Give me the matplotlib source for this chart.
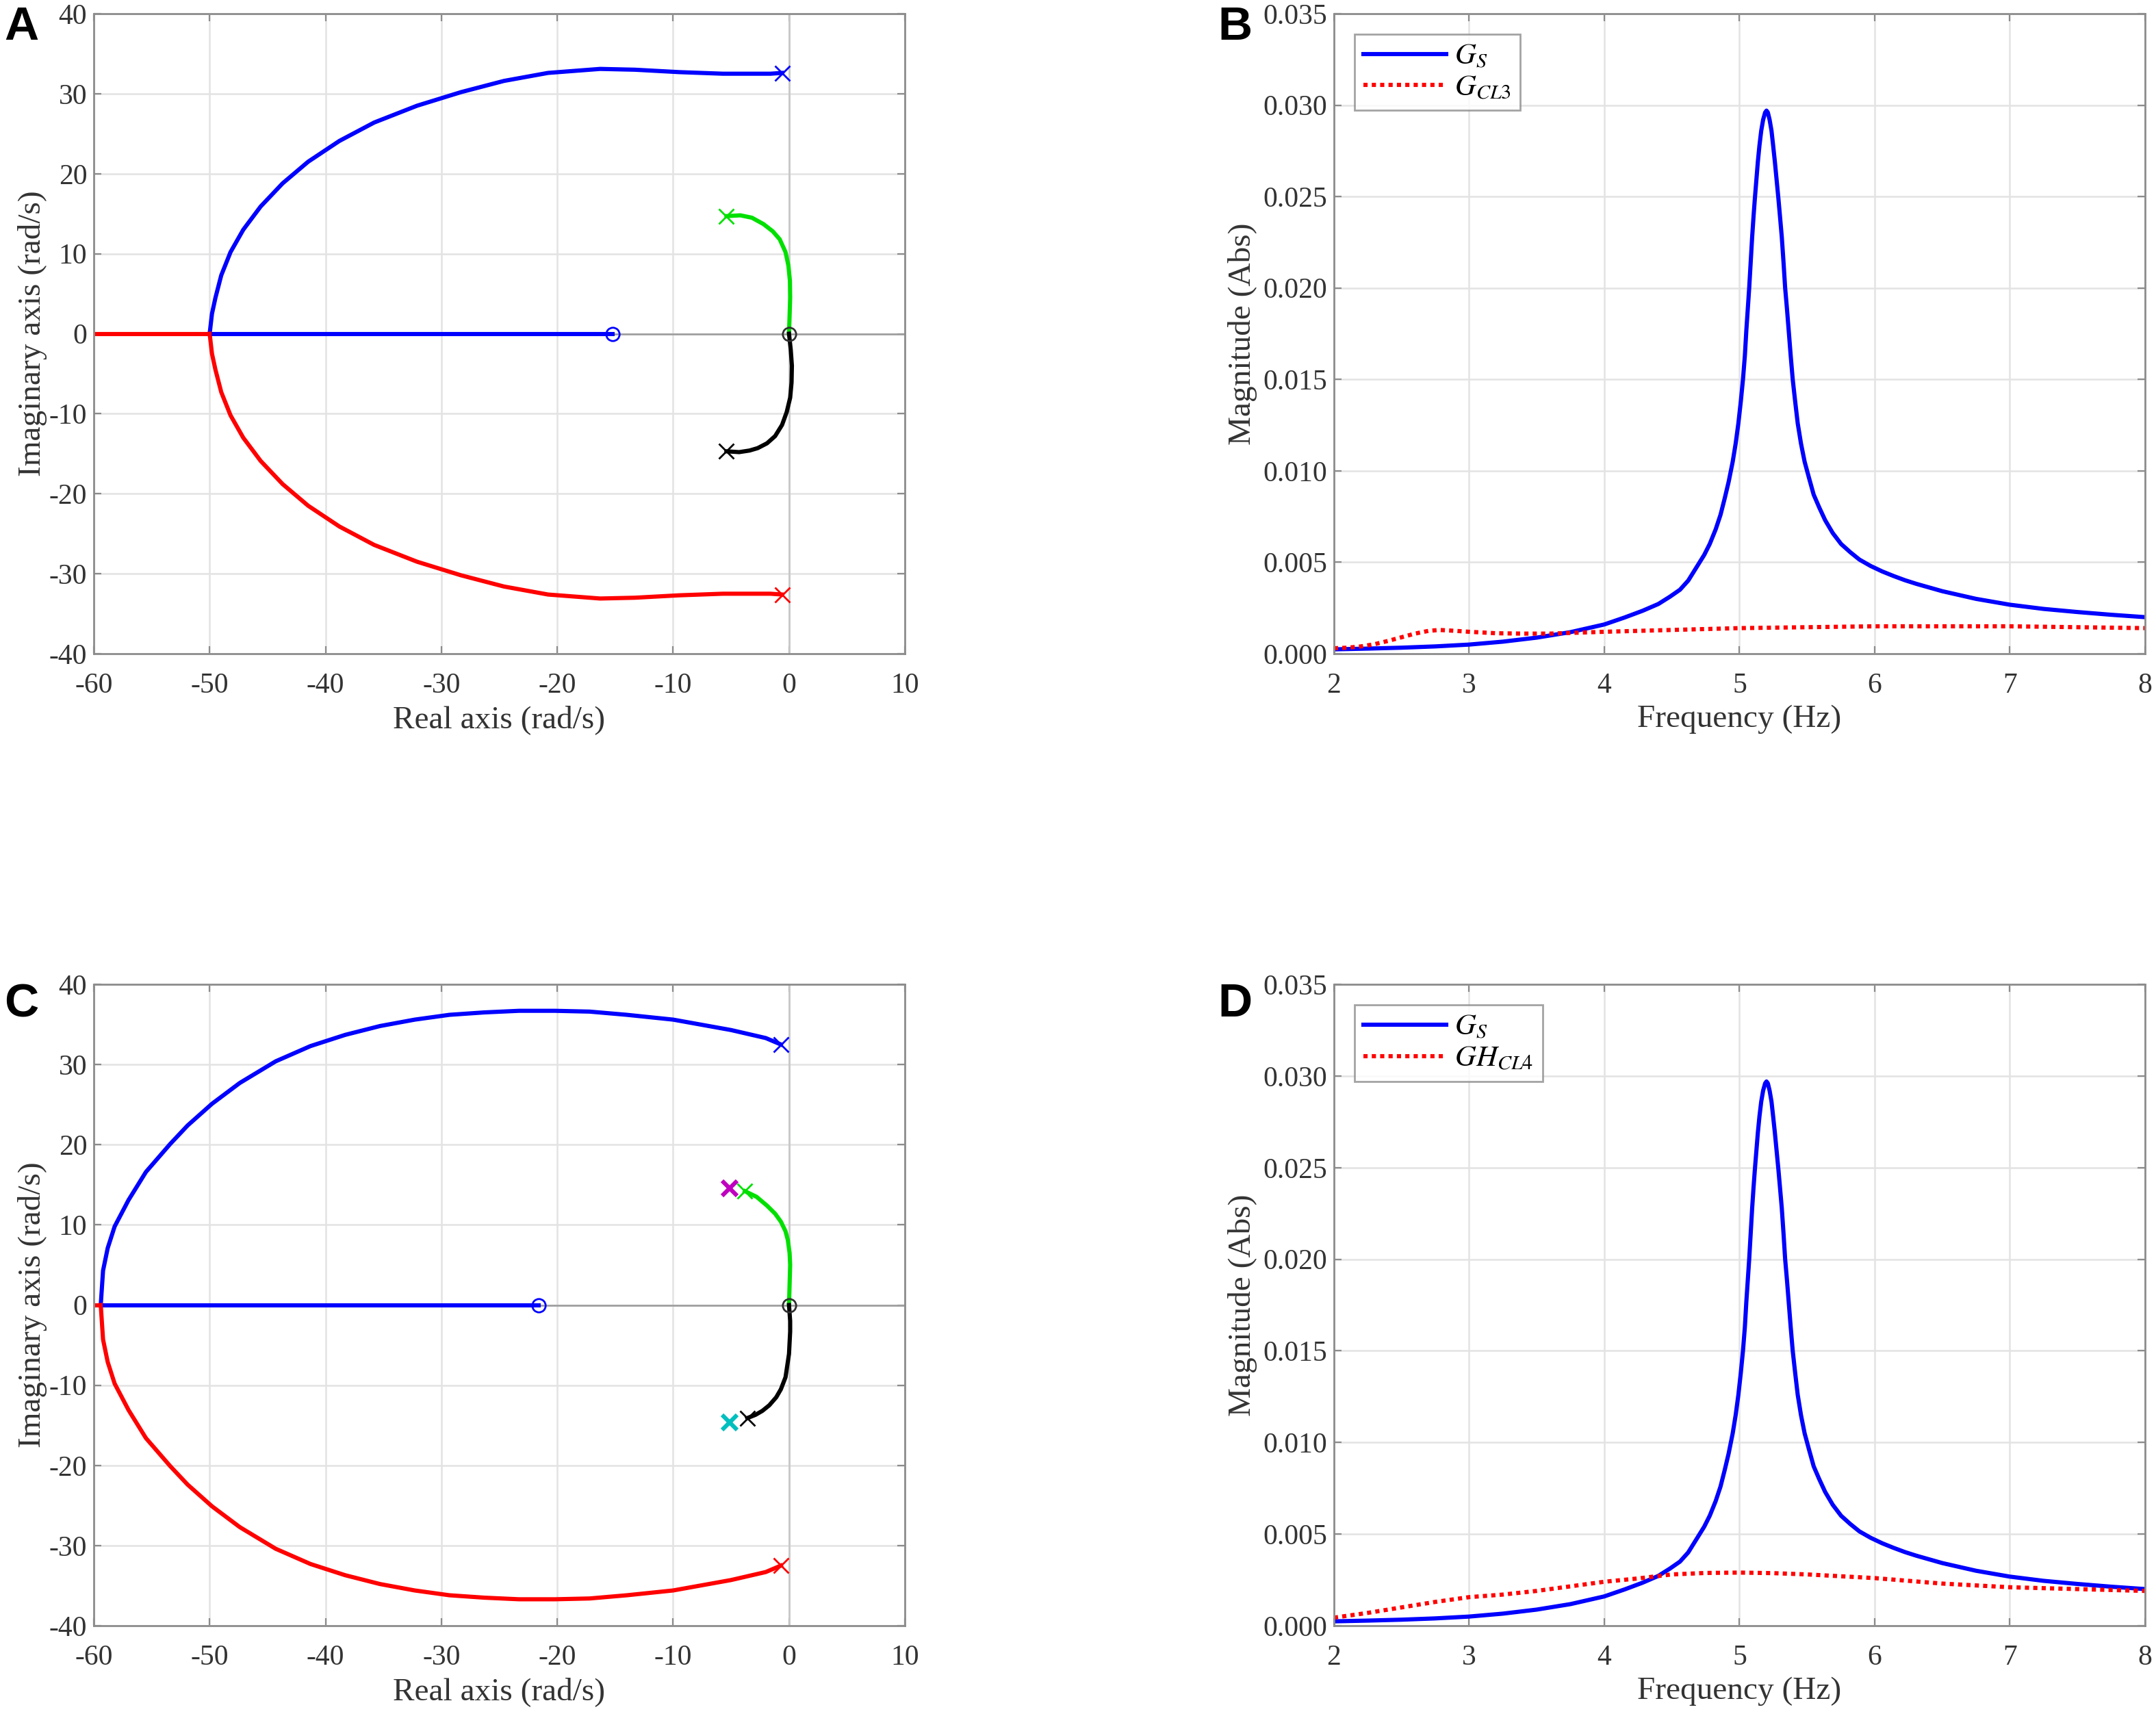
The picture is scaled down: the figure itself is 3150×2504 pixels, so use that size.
import numpy as np
import matplotlib.pyplot as plt

plt.rcParams["font.family"] = ["Liberation Serif", "DejaVu Serif"]
plt.rcParams["mathtext.fontset"] = "stix"
plt.rcParams["axes.unicode_minus"] = False

# ---------------- data: root locus A (upper branch, mirrored for the lower one) ----------------
a_branch_re = [-0.6, -1.6, -5.7, -9.5, -13.3, -16.3, -20.8, -24.6, -28.3, -32.1, -35.8, -38.8,
               -41.5, -43.7, -45.6, -47.1, -48.2, -49.0, -49.5, -49.8, -50.0]
a_branch_im = [32.6, 32.5, 32.5, 32.7, 33.0, 33.1, 32.6, 31.6, 30.2, 28.5, 26.4, 24.1,
               21.5, 18.8, 15.9, 13.0, 10.2, 7.3, 4.5, 2.5, 0.0]
a_breakaway = -50.0
a_zero = -15.2
a_green_re = [-5.4, -4.2, -3.2, -2.2, -1.4, -0.8, -0.3, -0.05, 0.08, 0.1, 0.05, 0.0]
a_green_im = [14.7, 14.8, 14.5, 13.7, 12.8, 11.8, 10.2, 8.5, 6.6, 4.5, 2.2, 0.0]
a_black_re = [0.0, 0.15, 0.25, 0.22, 0.1, -0.2, -0.6, -1.2, -1.9, -2.7, -3.4, -4.3, -5.4]
a_black_im = [0.0, -2.0, -4.0, -6.1, -8.0, -9.8, -11.4, -12.8, -13.7, -14.3, -14.6, -14.8, -14.7]

# ---------------- data: root locus C ----------------
c_branch_re = [-0.7, -2, -5, -10, -14, -17.2, -20.2, -23.3, -26.3, -29.3, -32.3, -35.3, -38.3,
               -41.3, -44.3, -47.4, -49.8, -51.9, -53.4, -55.5, -57.0, -58.2, -58.8, -59.2, -59.4]
c_branch_im = [32.5, 33.3, 34.3, 35.6, 36.2, 36.6, 36.7, 36.7, 36.5, 36.2, 35.6, 34.8, 33.7,
               32.3, 30.4, 27.7, 25.1, 22.4, 20.1, 16.6, 13.1, 9.8, 7.1, 4.3, 0.0]
c_breakaway = -59.4
c_zero = -21.6
c_green_re = [-3.8, -2.8, -1.9, -1.2, -0.7, -0.3, -0.1, 0.05, 0.1, 0.05, 0.0]
c_green_im = [14.2, 13.5, 12.4, 11.4, 10.4, 9.2, 8.1, 6.5, 5.0, 2.5, 0.0]
c_black_re = [0.0, 0.1, 0.1, 0.0, -0.3, -0.7, -1.1, -1.7, -2.3, -2.9, -3.6]
c_black_im = [0.0, -2.0, -3.3, -6.1, -9.0, -10.5, -11.5, -12.5, -13.2, -13.7, -14.1]
c_extra_pole = (-5.1, 14.6)

# ---------------- data: frequency responses ----------------
freq_s = [2.0, 2.25, 2.5, 2.75, 3.0, 3.25, 3.5, 3.75, 4.0, 4.15, 4.284, 4.4, 4.486, 4.56,
          4.621, 4.68, 4.739, 4.78, 4.824, 4.86, 4.891, 4.92, 4.95, 4.972, 4.992, 5.01, 5.026,
          5.04, 5.051, 5.062, 5.072, 5.083, 5.094, 5.104, 5.114, 5.125, 5.136, 5.148, 5.161,
          5.175, 5.19, 5.2, 5.21, 5.223, 5.237, 5.249, 5.262, 5.275, 5.288, 5.3, 5.313, 5.326,
          5.338, 5.351, 5.364, 5.379, 5.394, 5.412, 5.431, 5.455, 5.482, 5.515, 5.549, 5.59,
          5.634, 5.69, 5.752, 5.82, 5.887, 5.97, 6.056, 6.14, 6.224, 6.309, 6.5, 6.75, 7.0,
          7.25, 7.5, 7.75, 8.0]
mag_s = [0.00024, 0.00028, 0.00033, 0.0004, 0.0005, 0.00066, 0.00088, 0.00118, 0.0016,
         0.00198, 0.00235, 0.00272, 0.00312, 0.0035, 0.0040, 0.0047, 0.0054, 0.0060, 0.0068,
         0.0076, 0.0085, 0.0094, 0.0105, 0.0115, 0.0126, 0.0138, 0.0150, 0.0163, 0.0177,
         0.0189, 0.0200, 0.0214, 0.0228, 0.0239, 0.0249, 0.0259, 0.0269, 0.0278, 0.0286,
         0.0292, 0.0296, 0.0297, 0.0296, 0.0292, 0.0286, 0.0278, 0.0269, 0.0259, 0.0249,
         0.0239, 0.0228, 0.0214, 0.0200, 0.0189, 0.0177, 0.0163, 0.0150, 0.0138, 0.0126,
         0.0115, 0.0105, 0.0096, 0.0087, 0.0080, 0.0073, 0.0066, 0.0060, 0.00555, 0.00515,
         0.0048, 0.0045, 0.00425, 0.00402, 0.00382, 0.00342, 0.0030, 0.00268, 0.00245,
         0.00228, 0.00213, 0.0020]

freq_cl3 = [2.0, 2.1, 2.2, 2.3, 2.4, 2.5, 2.6, 2.7, 2.78, 2.9, 3.0, 3.2, 3.4, 3.6, 3.8, 4.0,
            4.5, 5.0, 5.5, 6.0, 6.5, 7.0, 7.5, 8.0]
mag_cl3 = [0.0003, 0.00033, 0.0004, 0.00052, 0.0007, 0.0009, 0.0011, 0.00125, 0.0013,
           0.00125, 0.0012, 0.00112, 0.0011, 0.0011, 0.00115, 0.0012, 0.0013, 0.0014,
           0.00145, 0.0015, 0.0015, 0.0015, 0.00145, 0.0014]

freq_cl4 = [2.0, 2.25, 2.5, 2.75, 3.0, 3.25, 3.5, 3.75, 4.0, 4.25, 4.5, 4.75, 5.0, 5.25, 5.5,
            5.75, 6.0, 6.25, 6.5, 6.75, 7.0, 7.5, 8.0]
mag_cl4 = [0.00044, 0.0007, 0.0010, 0.0013, 0.00156, 0.0017, 0.0019, 0.00215, 0.0024, 0.00258,
           0.0028, 0.00288, 0.0029, 0.00287, 0.0028, 0.0027, 0.0026, 0.00245, 0.0023, 0.0022,
           0.0021, 0.0020, 0.0019]

TICK_COLOR = "#333333"
SPINE_COLOR = "#8c8c8c"
GRID_COLOR = "#e3e3e3"
LW = 2.2


def style_axes(ax):
    for s in ax.spines.values():
        s.set_color(SPINE_COLOR)
        s.set_linewidth(1.0)
    ax.tick_params(direction="in", top=True, right=True, colors=SPINE_COLOR,
                   labelcolor=TICK_COLOR, labelsize=15, length=4)
    ax.tick_params(axis="x", pad=10)
    ax.grid(True, color=GRID_COLOR, linewidth=0.9)
    ax.set_axisbelow(True)


def root_locus(ax, br_re, br_im, breakaway, zero, g_re, g_im, k_re, k_im):
    br_re = np.array(br_re)
    br_im = np.array(br_im)
    ax.axhline(0, color="#a0a0a0", lw=1.0, zorder=1)
    ax.axvline(0, color="#c8c8c8", lw=1.0, zorder=1)
    ax.plot(br_re, br_im, color="b", lw=LW)
    ax.plot(br_re, -br_im, color="r", lw=LW)
    ax.plot([breakaway, zero], [0, 0], color="b", lw=LW)
    ax.plot([breakaway, -60], [0, 0], color="r", lw=LW)
    ax.plot(g_re, g_im, color="#00e000", lw=LW)
    ax.plot(k_re, k_im, color="k", lw=LW)
    # poles and zeros
    ax.plot(br_re[0], br_im[0], "x", color="b", ms=8, mew=1)
    ax.plot(br_re[0], -br_im[0], "x", color="r", ms=8, mew=1)
    ax.plot(g_re[0], g_im[0], "x", color="#00e000", ms=8, mew=1)
    ax.plot(k_re[-1], k_im[-1], "x", color="k", ms=8, mew=1)
    ax.plot(zero, 0, "o", mfc="none", mec="b", ms=7, mew=1)
    ax.plot(0, 0, "o", mfc="none", mec="#303030", ms=7, mew=1)
    ax.set_xlim(-60, 10)
    ax.set_ylim(-40, 40)
    ax.set_xticks(np.arange(-60, 11, 10))
    ax.set_yticks(np.arange(-40, 41, 10))
    ax.set_xlabel("Real axis (rad/s)", fontsize=17, color=TICK_COLOR, labelpad=3)
    ax.set_ylabel("Imaginary axis (rad/s)", fontsize=17, color=TICK_COLOR, labelpad=1)
    style_axes(ax)


def freq_plot(ax, f2, m2, label2):
    ax.plot(freq_s, mag_s, color="b", lw=LW, label="$G_S$")
    ax.plot(f2, m2, color="r", lw=LW, ls=(0, (1, 1)), label=label2)
    ax.set_xlim(2, 8)
    ax.set_ylim(0, 0.035)
    ax.set_xticks(np.arange(2, 9, 1))
    ax.set_yticks(np.arange(0, 0.0351, 0.005))
    ax.set_yticklabels([f"{v:.3f}" for v in np.arange(0, 0.0351, 0.005)])
    ax.set_xlabel("Frequency (Hz)", fontsize=17, color=TICK_COLOR, labelpad=3)
    ax.set_ylabel("Magnitude (Abs)", fontsize=17, color=TICK_COLOR, labelpad=3)
    style_axes(ax)
    leg = ax.legend(loc="upper left", fontsize=15.5, frameon=True, fancybox=False,
                    handlelength=2.8, borderpad=0.3, labelspacing=0.15,
                    borderaxespad=0.7, handletextpad=0.3)
    leg.get_frame().set_edgecolor("#8c8c8c")
    leg.get_frame().set_linewidth(1.0)


fig = plt.figure(figsize=(15.75, 12.52), dpi=200)

ax_a = fig.add_axes([0.0435, 0.6186, 0.3762, 0.3734])
ax_b = fig.add_axes([0.6187, 0.6186, 0.3762, 0.3734])
ax_c = fig.add_axes([0.0435, 0.0515, 0.3762, 0.3742])
ax_d = fig.add_axes([0.6187, 0.0515, 0.3762, 0.3742])

root_locus(ax_a, a_branch_re, a_branch_im, a_breakaway, a_zero,
           a_green_re, a_green_im, a_black_re, a_black_im)
root_locus(ax_c, c_branch_re, c_branch_im, c_breakaway, c_zero,
           c_green_re, c_green_im, c_black_re, c_black_im)
ax_c.plot(c_extra_pole[0], c_extra_pole[1], "x", color="m", ms=8, mew=2.2)
ax_c.plot(c_extra_pole[0], -c_extra_pole[1], "x", color="c", ms=8, mew=2.2)

freq_plot(ax_b, freq_cl3, mag_cl3, "$G_{CL3}$")
freq_plot(ax_d, freq_cl4, mag_cl4, "$GH_{CL4}$")

for letter, x, y in [("A", 0.002, 0.984), ("B", 0.565, 0.984),
                     ("C", 0.002, 0.414), ("D", 0.565, 0.414)]:
    fig.text(x, y, letter, fontsize=25, fontweight="bold",
             family=["Liberation Sans", "DejaVu Sans"], va="center")

plt.savefig("out.png", dpi=200)
